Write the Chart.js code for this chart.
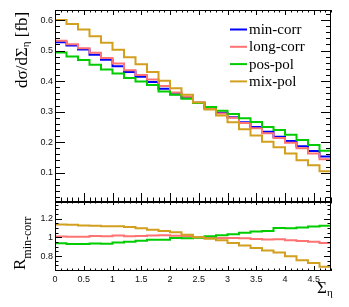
<!DOCTYPE html>
<html>
<head>
<meta charset="utf-8">
<script src="https://cdn.jsdelivr.net/npm/chart.js@4.4.1/dist/chart.umd.min.js"></script>
<style>
body { margin: 0; background: #fff; }
#wrap { position: relative; width: 349px; height: 307px; }
canvas { position: absolute; left: 0; top: 0; }
</style>
</head>
<body>
<div id="wrap">
  <canvas id="mainChart" width="349" height="307"></canvas>
  <canvas id="ratioChart" width="349" height="307"></canvas>
</div>
<script>
// bin edges of Sigma_eta
const binEdges = [0, 0.2, 0.4, 0.6, 0.8, 1.0, 1.2, 1.4, 1.6, 1.8, 2.0, 2.2, 2.4,
                  2.6, 2.8, 3.0, 3.2, 3.4, 3.6, 3.8, 4.0, 4.2, 4.4, 4.6, 4.8];

// dsigma/dSigma_eta [fb], one value per bin
const minCorr  = [0.527, 0.517, 0.504, 0.486, 0.470, 0.449, 0.430, 0.414, 0.397, 0.375, 0.357, 0.345,
                  0.329, 0.311, 0.296, 0.282, 0.265, 0.250, 0.234, 0.218, 0.204, 0.187, 0.171, 0.153];
const longCorr = [0.532, 0.521, 0.508, 0.493, 0.476, 0.458, 0.436, 0.420, 0.405, 0.384, 0.363, 0.349,
                  0.330, 0.310, 0.294, 0.280, 0.263, 0.246, 0.229, 0.214, 0.198, 0.180, 0.163, 0.144];
const posPol   = [0.494, 0.481, 0.469, 0.454, 0.438, 0.425, 0.410, 0.399, 0.387, 0.366, 0.355, 0.342,
                  0.328, 0.315, 0.303, 0.292, 0.278, 0.266, 0.250, 0.240, 0.224, 0.207, 0.191, 0.172];
const mixPol   = [0.600, 0.587, 0.569, 0.547, 0.526, 0.503, 0.478, 0.455, 0.430, 0.401, 0.377, 0.355,
                  0.330, 0.307, 0.287, 0.265, 0.242, 0.222, 0.201, 0.183, 0.163, 0.141, 0.124, 0.105];

const seriesNames  = ['min-corr', 'long-corr', 'pos-pol', 'mix-pol'];
const seriesColors = ['#0000ff', '#ff7373', '#00cc00', '#d2a01e'];

const xTicks     = [0, 0.5, 1, 1.5, 2, 2.5, 3, 3.5, 4, 4.5];
const yTicks     = [0.1, 0.2, 0.3, 0.4, 0.5, 0.6];
const ratioTicks = [0.8, 1, 1.2];

const SERIF = '"Liberation Serif", "DejaVu Serif", serif';
const SANS = '"Liberation Sans", Arial, sans-serif';

function histPoints(vals) {
  return binEdges.map((x, i) => ({ x: x, y: vals[Math.min(i, vals.length - 1)] }));
}

function fixTicks(list) {
  return function (scale) { scale.ticks = list.map(v => ({ value: v })); };
}

// ROOT style frame with ticks pointing inwards on all four sides
const rootFrame = {
  id: 'rootFrame',
  afterDraw(chart, args, o) {
    const ctx = chart.ctx, a = chart.chartArea;
    const xs = chart.scales.x, ys = chart.scales.y;
    ctx.save();
    ctx.strokeStyle = '#000';
    ctx.lineWidth = 1;
    ctx.beginPath();
    // x ticks
    let n0 = Math.ceil(xs.min / o.xMinor - 1e-6), n1 = Math.floor(xs.max / o.xMinor + 1e-6);
    for (let n = n0; n <= n1; n++) {
      const v = n * o.xMinor;
      const major = Math.abs(v / o.xMajor - Math.round(v / o.xMajor)) < 1e-6;
      const px = Math.round(xs.getPixelForValue(v)) + 0.5;
      const lb = major ? o.xLen[0] : o.xLen[0] / 2;
      const lt = major ? o.xLen[1] : o.xLen[1] / 2;
      ctx.moveTo(px, a.bottom); ctx.lineTo(px, a.bottom - lb);
      ctx.moveTo(px, a.top); ctx.lineTo(px, a.top + lt);
    }
    // y ticks
    n0 = Math.ceil(ys.min / o.yMinor - 1e-6); n1 = Math.floor(ys.max / o.yMinor + 1e-6);
    for (let n = n0; n <= n1; n++) {
      const v = n * o.yMinor;
      const major = Math.abs(v / o.yMajor - Math.round(v / o.yMajor)) < 1e-6;
      const py = Math.round(ys.getPixelForValue(v)) + 0.5;
      const l = major ? o.yLen : o.yLen / 2;
      ctx.moveTo(a.left, py); ctx.lineTo(a.left + l, py);
      ctx.moveTo(a.right, py); ctx.lineTo(a.right - l, py);
    }
    ctx.stroke();
    ctx.strokeRect(Math.round(a.left) + 0.5, Math.round(a.top) + 0.5,
                   Math.round(a.right - a.left) - 1, Math.round(a.bottom - a.top) - 1);
    ctx.restore();
  }
};

// rotated axis titles, legend and x title
function drawSubText(ctx, x, y, main, sub, rest, big, small, shift) {
  ctx.font = big + 'px ' + SERIF;
  ctx.fillText(main, x, y);
  let w = ctx.measureText(main).width;
  ctx.font = small + 'px ' + SERIF;
  ctx.fillText(sub, x + w, y + shift);
  w += ctx.measureText(sub).width;
  if (rest) {
    ctx.font = big + 'px ' + SERIF;
    ctx.fillText(rest, x + w, y);
  }
}

const mainDecor = {
  id: 'mainDecor',
  afterDraw(chart) {
    const ctx = chart.ctx;
    ctx.save();
    ctx.fillStyle = '#000';
    ctx.textBaseline = 'alphabetic';
    // y title
    ctx.translate(27, 88);
    ctx.rotate(-Math.PI / 2);
    drawSubText(ctx, 0, 0, 'd\u03c3/d\u03a3', '\u03b7', ' [fb]', 17, 11, 2);
    ctx.restore();
    // legend
    ctx.save();
    const rowY = [29.5, 46.8, 64.1, 81.4];
    chart.data.datasets.forEach((ds, i) => {
      ctx.strokeStyle = ds.borderColor;
      ctx.lineWidth = 2;
      ctx.beginPath();
      ctx.moveTo(230, rowY[i]); ctx.lineTo(247, rowY[i]);
      ctx.stroke();
      ctx.fillStyle = '#000';
      ctx.font = '15px ' + SERIF;
      ctx.textBaseline = 'middle';
      ctx.fillText(ds.label, 249, rowY[i] + 0.5);
    });
    ctx.restore();
  }
};

const ratioDecor = {
  id: 'ratioDecor',
  afterDraw(chart) {
    const ctx = chart.ctx;
    ctx.save();
    ctx.fillStyle = '#000';
    ctx.translate(25, 270);
    ctx.rotate(-Math.PI / 2);
    drawSubText(ctx, 0, 0, 'R', 'min-corr', '', 17, 12, 6);
    ctx.restore();
    ctx.save();
    ctx.fillStyle = '#000';
    drawSubText(ctx, 317, 293, '\u03a3', '\u03b7', '', 17, 11, 3);
    ctx.restore();
  }
};

const mainSeries = [minCorr, longCorr, posPol, mixPol];

new Chart(document.getElementById('mainChart'), {
  type: 'line',
  data: {
    datasets: mainSeries.map((vals, i) => ({
      label: seriesNames[i],
      data: histPoints(vals),
      borderColor: seriesColors[i],
      borderWidth: 2,
      stepped: true,
      pointRadius: 0,
      fill: false,
      order: 4 - i
    }))
  },
  options: {
    responsive: false,
    animation: false,
    layout: { padding: { left: 0, top: 10, right: 18, bottom: 105 } },
    plugins: {
      legend: { display: false },
      tooltip: { enabled: false },
      rootFrame: { xMinor: 0.1, xMajor: 0.5, xLen: [9, 5], yMinor: 0.02, yMajor: 0.1, yLen: 10 }
    },
    scales: {
      x: { type: 'linear', min: 0, max: 4.8, display: false },
      y: {
        type: 'linear', min: 0.004, max: 0.633,
        afterBuildTicks: fixTicks(yTicks),
        afterFit: s => { s.width = 55; },
        grid: { display: false, drawTicks: false },
        border: { display: false },
        ticks: { padding: 2, color: '#111', font: { family: SANS, size: 9 }, callback: v => String(v) }
      }
    }
  },
  plugins: [rootFrame, mainDecor]
});

const ratioSeries = [longCorr, posPol, mixPol];

new Chart(document.getElementById('ratioChart'), {
  type: 'line',
  data: {
    datasets: ratioSeries.map((vals, i) => ({
      label: seriesNames[i + 1],
      data: histPoints(vals.map((v, k) => v / minCorr[k])),
      borderColor: seriesColors[i + 1],
      borderWidth: 2,
      stepped: true,
      pointRadius: 0,
      fill: false,
      order: 3 - i
    }))
  },
  options: {
    responsive: false,
    animation: false,
    layout: { padding: { left: 0, top: 202, right: 18, bottom: 0 } },
    plugins: {
      legend: { display: false },
      tooltip: { enabled: false },
      rootFrame: { xMinor: 0.1, xMajor: 0.5, xLen: [5, 3], yMinor: 0.05, yMajor: 0.2, yLen: 7 }
    },
    scales: {
      x: {
        type: 'linear', min: 0, max: 4.8,
        afterBuildTicks: fixTicks(xTicks),
        afterFit: s => { s.height = 36; },
        grid: { display: false, drawTicks: false },
        border: { display: false },
        ticks: { padding: 3, autoSkip: false, maxRotation: 0, color: '#111',
                 font: { family: SANS, size: 9 }, callback: v => String(v) }
      },
      y: {
        type: 'linear', min: 0.64, max: 1.38,
        afterBuildTicks: fixTicks(ratioTicks),
        afterFit: s => { s.width = 55; },
        grid: { display: false, drawTicks: false },
        border: { display: false },
        ticks: { padding: 2, color: '#111', font: { family: SANS, size: 9 }, callback: v => String(v) }
      }
    }
  },
  plugins: [rootFrame, ratioDecor]
});
</script>
</body>
</html>
